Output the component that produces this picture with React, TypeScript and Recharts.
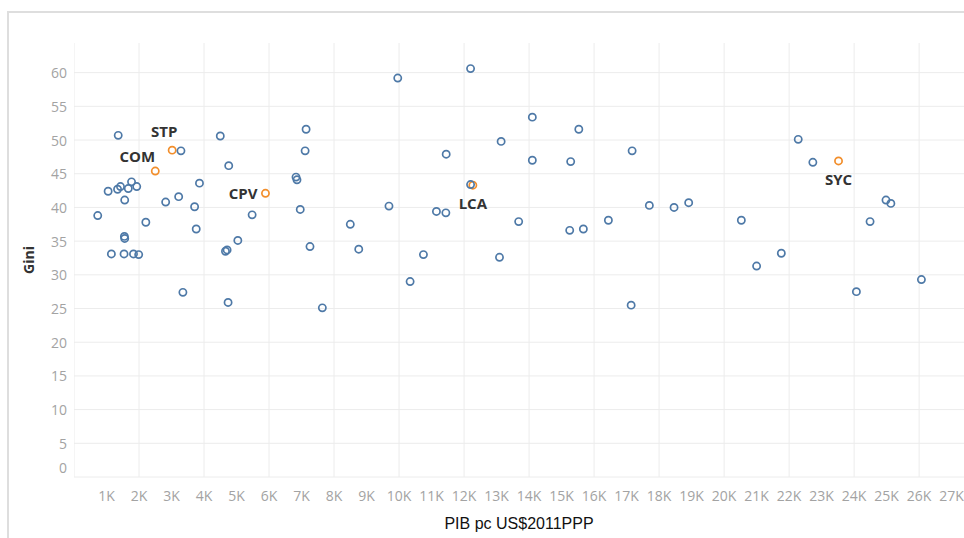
import React from "react";
import {
  ScatterChart,
  Scatter,
  XAxis,
  YAxis,
  CartesianGrid,
  ReferenceLine,
} from "recharts";

// PIB per capita (US$2011 PPP) and Gini, all other countries
const gdpPc = [
  730, 1150, 1050, 1360, 1340, 1430, 1540, 1560, 1550, 1560, 1670, 1770, 1830,
  1930, 1990, 2210, 2820, 3220, 3290, 3350, 3710, 3760, 3860, 4500, 4660, 4710,
  4760, 4740, 5040, 5480, 6830, 6860, 6960, 7140, 7110, 7260, 7640, 8500, 8760,
  9690, 9960, 10340, 10750, 11150, 11440, 11450, 12200, 12200, 13090, 13140,
  13680, 14100, 14100, 15250, 15280, 15530, 15670, 16440, 17170, 17140, 17700,
  18460, 18910, 20530, 21000, 21760, 22280, 22730, 24070, 24490, 24980, 25130,
  26070,
];
const giniIdx = [
  38.8, 33.1, 42.4, 50.7, 42.7, 43.1, 33.1, 41.1, 35.7, 35.4, 42.8, 43.8, 33.1,
  43.1, 33.0, 37.8, 40.8, 41.6, 48.4, 27.4, 40.1, 36.8, 43.6, 50.6, 33.5, 33.7,
  46.2, 25.9, 35.1, 38.9, 44.5, 44.1, 39.7, 51.6, 48.4, 34.2, 25.1, 37.5, 33.8,
  40.2, 59.2, 29.0, 33.0, 39.4, 39.2, 47.9, 60.6, 43.4, 32.6, 49.8, 37.9, 53.4,
  47.0, 36.6, 46.8, 51.6, 36.8, 38.1, 48.4, 25.5, 40.3, 40.0, 40.7, 38.1, 31.3,
  33.2, 50.1, 46.7, 27.5, 37.9, 41.1, 40.6, 29.3,
];

// highlighted small island states
const focusCodes = ["COM", "STP", "CPV", "LCA", "SYC"];
const focusGdp = [2500, 3020, 5890, 12270, 23520];
const focusGini = [45.4, 48.5, 42.1, 43.3, 46.9];

const xTicks = [
  1000, 2000, 3000, 4000, 5000, 6000, 7000, 8000, 9000, 10000, 11000, 12000,
  13000, 14000, 15000, 16000, 17000, 18000, 19000, 20000, 21000, 22000, 23000,
  24000, 25000, 26000, 27000,
];
const xGrid = [
  0, 2000, 4000, 6000, 8000, 10000, 12000, 14000, 16000, 18000, 20000, 22000,
  24000, 26000,
];
const yTicks = [0, 5, 10, 15, 20, 25, 30, 35, 40, 45, 50, 55, 60];

// where each code label sits relative to its point
const labelPlacement: Record<string, { dx: number; dy: number; anchor: string }> = {
  COM: { dx: -18, dy: -15, anchor: "middle" },
  STP: { dx: -8, dy: -19, anchor: "middle" },
  CPV: { dx: -8, dy: 0, anchor: "end" },
  LCA: { dx: 0, dy: 18, anchor: "middle" },
  SYC: { dx: 0, dy: 18, anchor: "middle" },
};

const BLUE = "#4e79a7";
const ORANGE = "#f28e2b";
const GRID = "#ececec";
const TICK = "#a3a3a3";
const FONT = "'Open Sans', 'Noto Sans', sans-serif";

const mainPoints = gdpPc.map((x, i) => ({ x, y: giniIdx[i] }));
const focusPoints = focusGdp.map((x, i) => ({
  x,
  y: focusGini[i],
  code: focusCodes[i],
}));

const XTick = (props: any) => {
  const { x, y, payload } = props;
  return (
    <text
      x={x}
      y={y + 18}
      textAnchor="middle"
      dominantBaseline="central"
      fontSize={14}
      fontFamily={FONT}
      fill={TICK}
    >
      {payload.value / 1000}K
    </text>
  );
};

const YTick = (props: any) => {
  const { x, y, payload } = props;
  return (
    <text
      x={x - 7}
      y={payload.value === 0 ? y - 10 : y}
      textAnchor="end"
      dominantBaseline="central"
      fontSize={14}
      fontFamily={FONT}
      fill={TICK}
    >
      {payload.value}
    </text>
  );
};

const hollowDot = (color: string) => (props: any) => {
  const { cx, cy } = props;
  if (cx == null || cy == null) return <g />;
  return (
    <circle cx={cx} cy={cy} r={3.6} fill="none" stroke={color} strokeWidth={1.7} />
  );
};

const FocusDot = (props: any) => {
  const { cx, cy, payload } = props;
  if (cx == null || cy == null) return <g />;
  const p = labelPlacement[payload.code] || { dx: 0, dy: -16, anchor: "middle" };
  return (
    <g>
      <circle cx={cx} cy={cy} r={3.6} fill="none" stroke={ORANGE} strokeWidth={1.7} />
      <text
        x={cx + p.dx}
        y={cy + p.dy}
        textAnchor={p.anchor as any}
        dominantBaseline="central"
        fontSize={15}
        fontWeight={700}
        fontFamily={FONT}
        fill="#333"
      >
        {payload.code}
      </text>
    </g>
  );
};

const XTitle = (props: any) => {
  const vb = props.viewBox || {};
  return (
    <text
      x={vb.x + vb.width / 2}
      y={vb.y + 46}
      textAnchor="middle"
      dominantBaseline="central"
      fontSize={16}
      fontFamily="'Liberation Sans', Arial, sans-serif"
      fill="#111"
    >
      PIB pc US$2011PPP
    </text>
  );
};

const YTitle = (props: any) => {
  const vb = props.viewBox || {};
  const cx = vb.x + 28;
  const cy = vb.y + vb.height / 2;
  return (
    <text
      x={cx}
      y={cy}
      transform={`rotate(-90 ${cx} ${cy})`}
      textAnchor="middle"
      dominantBaseline="central"
      fontSize={14}
      fontWeight={700}
      fontFamily={FONT}
      fill="#333"
    >
      Gini
    </text>
  );
};

const App = () => {
  return (
    <div
      style={{
        position: "absolute",
        left: 0,
        top: 0,
        width: 964,
        height: 538,
        overflow: "hidden",
        background: "#fff",
      }}
    >
      <div
        style={{
          position: "absolute",
          left: 7,
          top: 11,
          width: 957,
          height: 527,
          borderLeft: "2px solid #dedede",
          borderTop: "2px solid #dedede",
          boxSizing: "border-box",
        }}
      />
      <div style={{ position: "absolute", left: 0, top: 0 }}>
        <ScatterChart
          width={964}
          height={538}
          margin={{ top: 43, right: 0, bottom: 6, left: 0 }}
        >
          <CartesianGrid
            horizontal={true}
            vertical={false}
            syncWithTicks={true}
            stroke={GRID}
          />
          {xGrid.map((v) => (
            <ReferenceLine key={v} x={v} stroke={GRID} ifOverflow="hidden" />
          ))}
          <XAxis
            type="number"
            dataKey="x"
            domain={[0, 27380]}
            allowDataOverflow={true}
            ticks={xTicks}
            interval={0}
            tickLine={false}
            axisLine={false}
            tickSize={0}
            tickMargin={0}
            height={55}
            tick={<XTick />}
            label={{ content: <XTitle /> } as any}
          />
          <YAxis
            type="number"
            dataKey="y"
            domain={[0, 64.4]}
            allowDataOverflow={true}
            ticks={yTicks}
            interval={0}
            tickLine={false}
            axisLine={false}
            tickSize={0}
            tickMargin={0}
            width={74}
            tick={<YTick />}
            label={{ content: <YTitle /> } as any}
          />
          <Scatter
            data={focusPoints}
            shape={<FocusDot />}
            isAnimationActive={false}
          />
          <Scatter
            data={mainPoints}
            shape={hollowDot(BLUE)}
            isAnimationActive={false}
          />
        </ScatterChart>
      </div>
    </div>
  );
};

export default App;
